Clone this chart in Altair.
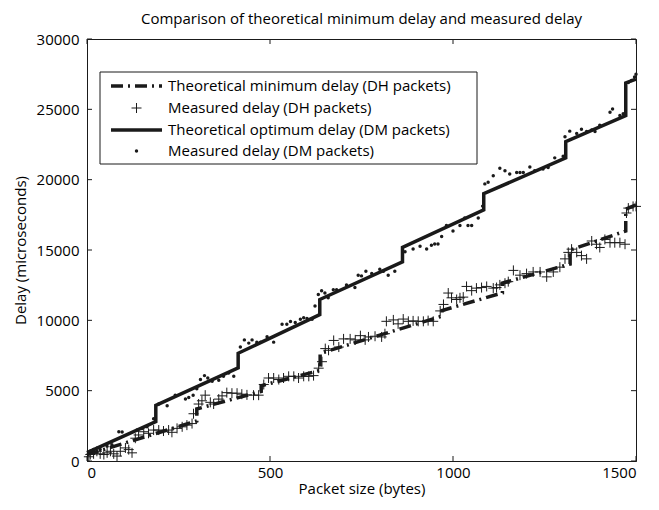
import altair as alt
import pandas as pd

# ---------------- data ----------------
title_text = "Comparison of theoretical minimum delay and measured delay"
x_title = "Packet size (bytes)"
y_title = "Delay (microseconds)"
x_ticks = [0, 500, 1000, 1500]
y_ticks = [0, 5000, 10000, 15000, 20000, 25000, 30000]
legend_labels = [
    "Theoretical minimum delay (DH packets)",
    "Measured delay (DH packets)",
    "Theoretical optimum delay (DM packets)",
    "Measured delay (DM packets)",
]

# theoretical optimum delay, DM packets (step curve vertices)
dm_line_x = [0, 188, 188, 413, 413, 636, 636, 862, 862, 1084, 1084, 1308, 1308, 1472, 1472, 1500]
dm_line_y = [600, 2800, 3960, 6620, 7660, 10400, 11480, 14150, 15190, 17850, 19000, 21550, 22710, 24560, 26880, 27150]

# theoretical minimum delay, DH packets (step curve vertices)
dh_line_x = [0, 300, 300, 476, 476, 637, 637, 970, 970, 1135, 1135, 1320, 1320, 1472, 1472, 1500]
dh_line_y = [450, 2850, 3700, 4950, 5350, 6450, 7650, 10300, 10700, 11950, 12650, 14000, 15000, 16350, 17900, 18200]

# measured delay, DH packets
dh_meas_x = [5, 9, 18, 27, 36, 46, 55, 64, 73, 82, 91, 105, 114, 123,
             132, 141, 155, 168, 182, 196, 209, 223, 232, 246, 260, 273, 287,
             291, 305, 314, 323, 337, 346, 360, 369, 382, 396, 410, 423, 437, 455, 469,
             483, 496, 510, 524, 537, 551, 565, 578, 592, 606, 619, 633,
             642, 651, 660, 674, 688, 701, 719, 733, 747, 760, 769, 787, 805, 814,
             818, 837, 850, 864, 878, 891, 905, 919, 932, 946,
             965, 974, 987, 996, 1010, 1019, 1028, 1037, 1051, 1064, 1078, 1092, 1110, 1119, 1128, 1142, 1151,
             1165, 1183, 1201, 1219, 1238, 1256, 1274, 1292,
             1306, 1315, 1324, 1338, 1351, 1365, 1379, 1392, 1401, 1415, 1429, 1442, 1456, 1470,
             1474, 1479, 1492, 1500]
dh_meas_y = [300, 460, 510, 690, 510, 460, 580, 690, 510, 350, 690, 930, 810, 580,
             1620, 1850, 2080, 1970, 2200, 2200, 2130, 2200, 2040, 2320, 2430, 2550, 2660,
             3360, 4050, 4280, 4680, 4170, 4050, 4400, 4630, 4860, 4820, 4820, 4750, 4700, 4680, 4680,
             5440, 5900, 5900, 5790, 5900, 6020, 6020, 5900, 6020, 6020, 6070, 6600,
             7060, 7990, 7870, 8570, 8100, 8680, 8680, 8610, 8910, 8610, 8820, 8870, 8820, 9050,
             9930, 10030, 9750, 10090, 9930, 9960, 9930, 9930, 9980, 9930,
             10670, 11130, 11940, 11600, 11480, 11600, 11650, 12410, 12110, 12290, 12330, 12410, 12290, 12330, 12520, 12640, 12750,
             13550, 13210, 13320, 13440, 13440, 13090, 13440, 13780,
             14370, 14830, 15060, 14830, 14600, 14370, 15640, 15410, 15180, 15750, 15520, 15520, 15520, 15410,
             17630, 17980, 18100, 18100]

# measured delay, DM packets
dm_meas_x = [9, 18, 36, 55, 68, 87, 96, 137, 150, 164, 182,
             196, 219, 241, 269, 278, 290, 300, 310, 321, 330, 342, 360, 373, 387, 401,
             419, 430, 442, 451, 464, 474, 492, 510, 533, 546, 556, 569, 583, 592, 601, 615, 623,
             632, 641, 650, 659, 673, 682, 709, 732, 741, 750, 762, 778, 800, 810, 823, 841,
             869, 891, 910, 928, 941, 950, 959, 969, 982, 1000, 1019, 1032, 1041, 1051, 1069, 1081,
             1087, 1096, 1110, 1128, 1142, 1155, 1174, 1183, 1192, 1210, 1223, 1246, 1260, 1278, 1301,
             1306, 1319, 1338, 1351, 1365, 1379, 1388, 1401, 1429, 1436, 1456, 1465, 1479, 1488, 1496, 1500]
dm_meas_y = [700, 810, 810, 1040, 1160, 2080, 2060, 2200, 2310, 2430, 3010,
             4050, 3935, 4680, 4400, 4510, 4680, 5140, 5790, 6070, 5900, 5670, 5740, 6020, 6250, 6020,
             8100, 8610, 8380, 8610, 8450, 8450, 8840, 8450, 9720, 9720, 9910, 9840, 10070, 10190, 10140, 10070, 11020,
             11830, 12110, 11940, 11600, 12180, 12180, 12520, 12330, 13210, 13160, 13490, 13330, 13630, 13490, 13210, 13490,
             14880, 15070, 15260, 15070, 15340, 15420, 15420, 15960, 16740, 16350, 16740, 17270, 16740, 16740, 17270, 18120,
             19700, 19810, 20280, 20810, 20630, 20400, 20510, 20510, 20510, 20900, 20630, 20750, 20860, 21550, 21660,
             23050, 23450, 23290, 23590, 23420, 23530, 23420, 23870, 24790, 25020, 24560, 24680, 26900, 27050, 27300, 27500]

# ---------------- chart ----------------
W, H = 549, 422
INK = "#1a1a1a"
FONT = "Open Sans"

xs = alt.Scale(domain=[0, 1500], nice=False, zero=False)
ys = alt.Scale(domain=[0, 30000], nice=False, zero=False)
axis_style = dict(ticks=False, grid=False, labelFont=FONT, labelFontSize=15, labelColor="black",
                  titleFont=FONT, titleFontSize=15, titleFontWeight="normal", titleColor="black",
                  domainColor=INK, domainWidth=1, format="d")
xaxis = alt.Axis(values=x_ticks, title=x_title, labelPadding=4, titlePadding=1, **axis_style)
yaxis = alt.Axis(values=y_ticks, title=y_title, labelPadding=8, titlePadding=8, **axis_style)
X = alt.X("x:Q", scale=xs, axis=xaxis)
Y = alt.Y("y:Q", scale=ys, axis=yaxis)

dm_line_df = pd.DataFrame({"x": dm_line_x, "y": dm_line_y, "i": range(len(dm_line_x))})
dh_line_df = pd.DataFrame({"x": dh_line_x, "y": dh_line_y, "i": range(len(dh_line_x))})
dh_meas_df = pd.DataFrame({"x": dh_meas_x, "y": dh_meas_y})
dm_meas_df = pd.DataFrame({"x": dm_meas_x, "y": dm_meas_y})
xt_df = pd.DataFrame({"x": x_ticks})
yt_df = pd.DataFrame({"y": y_ticks})
one = pd.DataFrame({"k": [0]})

DASHDOT = [12, 5, 2, 5]
PLUS = "M-1,0L1,0M0,-1L0,1"

dh_meas = alt.Chart(dh_meas_df).mark_point(shape=PLUS, size=100, filled=False, strokeWidth=1,
                                           color=INK, opacity=1).encode(x=X, y=Y)
dm_meas = alt.Chart(dm_meas_df).mark_circle(size=12, color=INK, opacity=1).encode(x=X, y=Y)
dm_line = alt.Chart(dm_line_df).mark_line(color=INK, strokeWidth=3.5, strokeJoin="miter").encode(
    x=X, y=Y, order="i:Q")
dh_line = alt.Chart(dh_line_df).mark_line(color=INK, strokeWidth=3.5, strokeDash=DASHDOT,
                                          strokeCap="butt").encode(x=X, y=Y, order="i:Q")

# inward ticks on all four sides
tb = alt.Chart(xt_df).mark_rule(color=INK, strokeWidth=1).encode(
    x=X, y=alt.value(H), y2=alt.value(H - 5))
tt = alt.Chart(xt_df).mark_rule(color=INK, strokeWidth=1).encode(
    x=X, y=alt.value(0), y2=alt.value(5))
tl = alt.Chart(yt_df).mark_rule(color=INK, strokeWidth=1).encode(
    y=Y, x=alt.value(0), x2=alt.value(5))
tr = alt.Chart(yt_df).mark_rule(color=INK, strokeWidth=1).encode(
    y=Y, x=alt.value(W), x2=alt.value(W - 5))

# legend box
LX0, LX1, LY0, LY1 = 13, 390, 33, 125
rows = [47, 69, 91, 112]
sx0, sx1, tx = 24, 75, 81
leg_box = alt.Chart(one).mark_rect(fill="white", stroke=INK, strokeWidth=1).encode(
    x=alt.value(LX0), x2=alt.value(LX1), y=alt.value(LY0), y2=alt.value(LY1))
leg_l1 = alt.Chart(one).mark_rule(color=INK, strokeWidth=3.5, strokeDash=DASHDOT, strokeCap="butt").encode(
    x=alt.value(sx0), x2=alt.value(sx1), y=alt.value(rows[0]))
leg_p1 = alt.Chart(one).mark_point(shape=PLUS, size=100, filled=False, strokeWidth=1, color=INK, opacity=1).encode(
    x=alt.value((sx0 + sx1) / 2), y=alt.value(rows[1]))
leg_l2 = alt.Chart(one).mark_rule(color=INK, strokeWidth=3.5).encode(
    x=alt.value(sx0), x2=alt.value(sx1), y=alt.value(rows[2]))
leg_p2 = alt.Chart(one).mark_circle(size=12, color=INK, opacity=1).encode(
    x=alt.value((sx0 + sx1) / 2), y=alt.value(rows[3]))
leg_texts = [
    alt.Chart(one).mark_text(text=lab, align="left", baseline="middle", font=FONT, fontSize=15,
                             color="black").encode(x=alt.value(tx), y=alt.value(r))
    for lab, r in zip(legend_labels, rows)
]

chart = alt.layer(
    dh_meas, dm_meas, dh_line, dm_line, tb, tt, tl, tr,
    leg_box, leg_l1, leg_p1, leg_l2, leg_p2, *leg_texts
).properties(
    width=W, height=H,
    background="white",
    title=alt.TitleParams(title_text, fontSize=15, font=FONT, fontWeight="normal",
                          anchor="middle", offset=5, color="black"),
    autosize=alt.AutoSizeParams(type="none"),
    padding={"left": 79, "top": 31, "right": 14, "bottom": 41},
).configure_view(stroke=INK, strokeWidth=1)

chart.save("out.html", embed_options={"renderer": "svg", "actions": False})
